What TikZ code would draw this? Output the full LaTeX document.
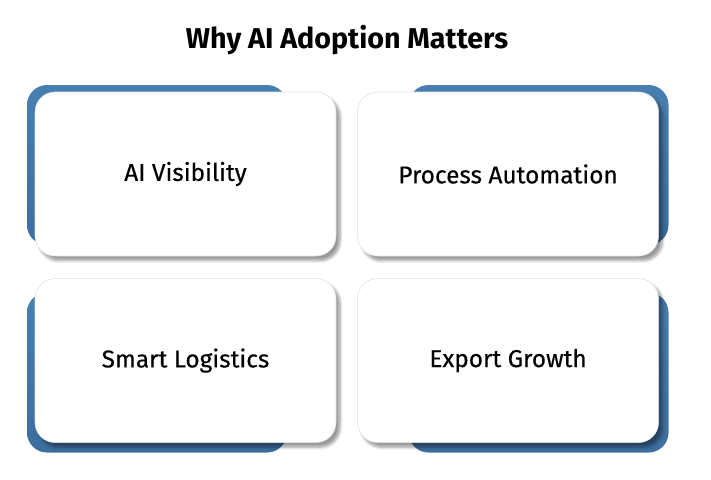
\documentclass[tikz,border=0pt]{standalone}
\usepackage{fontspec}
\setmainfont{Fira Sans}
\newfontfamily\labelfont[FakeBold=0.35]{Fira Sans}
\usetikzlibrary{positioning, calc, backgrounds, shadows.blur}
\definecolor{backblue}{RGB}{72,127,177}
\definecolor{backdark}{RGB}{60,110,158}

\begin{document}
\begin{tikzpicture}[
        x=0.75pt, y=-0.75pt,
        card/.style={draw=black!12, fill=white, rounded corners=15pt,
            minimum width=225.75pt, minimum height=123pt,
            font=\labelfont\fontsize{18.3}{22}\selectfont,
            blur shadow={shadow xshift=3pt, shadow yshift=-3.5pt, shadow blur steps=8, shadow opacity=40}},
        backing/.style={top color=backblue, bottom color=backdark, rounded corners=15pt,
            minimum width=195pt, minimum height=120pt}
    ]
        \useasboundingbox (0,0) rectangle (711,479);

        \node[font=\bfseries\fontsize{21.5}{26}\selectfont] (title) at (347,40) {Why AI Adoption Matters};

        \node[card] (vis) at (185.5,174) {AI Visibility};
        \node[card, right=15.75pt of vis] (auto) {Process Automation};
        \node[card, below=16.5pt of vis] (logi) {Smart Logistics};
        \node[card, right=15.75pt of logi] (export) {Export Growth};

        % blue plates peeking out behind the cards
        \begin{scope}[on background layer]
            \node[backing, anchor=north west] (visback) at ($(vis.north west)+(-8,-7)$) {};
            \node[backing, anchor=north east] (autoback) at ($(auto.north east)+(10,-7)$) {};
            \node[backing, anchor=south west] (logiback) at ($(logi.south west)+(-8,10)$) {};
            \node[backing, anchor=south east] (exportback) at ($(export.south east)+(10,10)$) {};
        \end{scope}
    \end{tikzpicture}
\end{document}
